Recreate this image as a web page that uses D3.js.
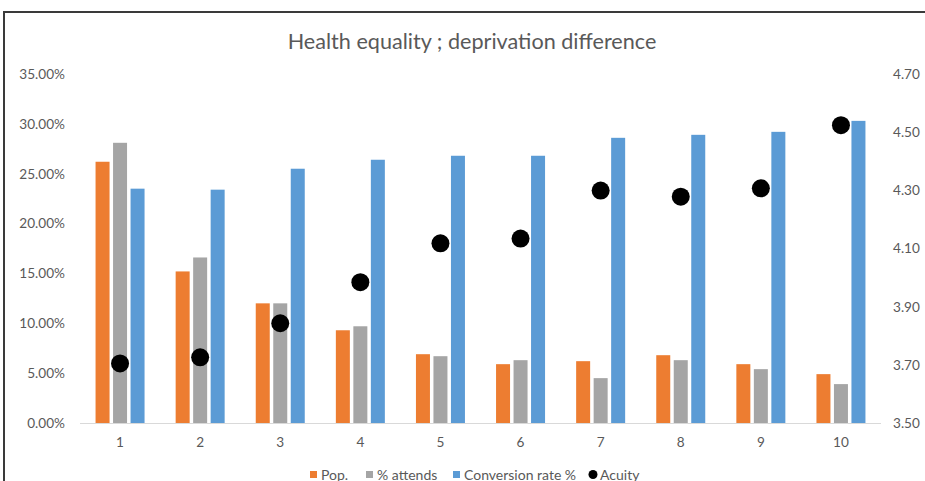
<!DOCTYPE html>
<html><head><meta charset="utf-8">
<script src="https://cdn.jsdelivr.net/npm/d3@7"></script>
<style>body{margin:0;background:#fff;} text{font-family:Lato,"Open Sans",sans-serif;}</style>
</head><body><svg id="c" width="925" height="481"></svg>
<script>
const categories = ["1","2","3","4","5","6","7","8","9","10"];
const pop = [0.262,0.152,0.120,0.093,0.069,0.059,0.062,0.068,0.059,0.049];
const attends = [0.281,0.166,0.120,0.097,0.067,0.063,0.045,0.063,0.054,0.039];
const conversion = [0.235,0.234,0.255,0.264,0.268,0.268,0.286,0.289,0.292,0.303];
const acuity = [3.705,3.726,3.843,3.984,4.118,4.134,4.299,4.278,4.307,4.524];
const leftTicks = [0,0.05,0.10,0.15,0.20,0.25,0.30,0.35];
const rightTicks = [3.5,3.7,3.9,4.1,4.3,4.5,4.7];
const seriesNames = ["Pop.","% attends","Conversion rate %","Acuity"];
const colors = ["#ED7D31","#A5A5A5","#5B9BD5","#000000"];

const svg = d3.select("#c");
const L=80, R=881, T=74, B=423;
// frame
svg.append("path").attr("d","M4,940 L4,12 L940,12").attr("fill","none").attr("stroke","#3a3a3a").attr("stroke-width",2);

const x0 = d3.scaleBand().domain(categories).range([L,R]);
const x1 = d3.scaleBand().domain(seriesNames.slice(0,3)).range([-24.5,24.5]).paddingInner(0.2);
const yL = d3.scaleLinear().domain([0,0.35]).range([B,T]);
const yR = d3.scaleLinear().domain([3.5,4.7]).range([B,T]);

svg.append("text").attr("x",472).attr("y",49).attr("text-anchor","middle")
  .attr("font-size",21.6).attr("fill","#595959").text("Health equality ; deprivation difference");

const axL = d3.axisLeft(yL).tickValues(leftTicks).tickFormat(d=>(d*100).toFixed(2)+"%").tickSize(0).tickPadding(15);
const gL = svg.append("g").attr("transform",`translate(${L},0)`).call(axL);
gL.select(".domain").remove();
gL.selectAll("text").attr("font-size",13.6).attr("fill","#595959").attr("font-family","Lato");

const axR = d3.axisRight(yR).tickValues(rightTicks).tickFormat(d3.format(".2f")).tickSize(0).tickPadding(12);
const gR = svg.append("g").attr("transform",`translate(${R},0)`).call(axR);
gR.select(".domain").remove();
gR.selectAll("text").attr("font-size",13.6).attr("fill","#595959").attr("font-family","Lato");

const data = categories.map((c,i)=>({c, vals:[pop[i],attends[i],conversion[i]], ac:acuity[i]}));
const groups = svg.append("g").selectAll("g").data(data).join("g")
  .attr("transform",d=>`translate(${x0(d.c)+x0.bandwidth()/2},0)`);
groups.selectAll("rect").data(d=>d.vals.map((v,j)=>({v,s:seriesNames[j],j}))).join("rect")
  .attr("x",d=>x1(d.s)).attr("width",x1.bandwidth())
  .attr("y",d=>yL(d.v)).attr("height",d=>B-yL(d.v)).attr("fill",d=>colors[d.j]);

// baseline
svg.append("line").attr("x1",L).attr("x2",R).attr("y1",B+0.5).attr("y2",B+0.5).attr("stroke","#d9d9d9").attr("stroke-width",1);

const axB = d3.axisBottom(x0).tickSize(0).tickPadding(14);
const gB = svg.append("g").attr("transform",`translate(0,${B})`).call(axB);
gB.select(".domain").remove();
gB.selectAll("text").attr("font-size",13.6).attr("fill","#595959").attr("font-family","Lato");

svg.append("g").selectAll("circle").data(data).join("circle")
  .attr("cx",d=>x0(d.c)+x0.bandwidth()/2).attr("cy",d=>yR(d.ac)).attr("r",9).attr("fill","#000");

// legend
const leg = [{x:310,n:0},{x:366,n:1},{x:453,n:2},{x:589,n:3}];
const lg = svg.append("g");
leg.forEach(l=>{
  if(l.n<3) lg.append("rect").attr("x",l.x).attr("y",471).attr("width",7).attr("height",7).attr("fill",colors[l.n]);
  else lg.append("circle").attr("cx",l.x+4).attr("cy",474.5).attr("r",4.5).attr("fill","#000");
  lg.append("text").attr("x",l.x+11).attr("y",479.5).attr("font-size",14).attr("fill","#595959").text(seriesNames[l.n]);
});
</script></body></html>
